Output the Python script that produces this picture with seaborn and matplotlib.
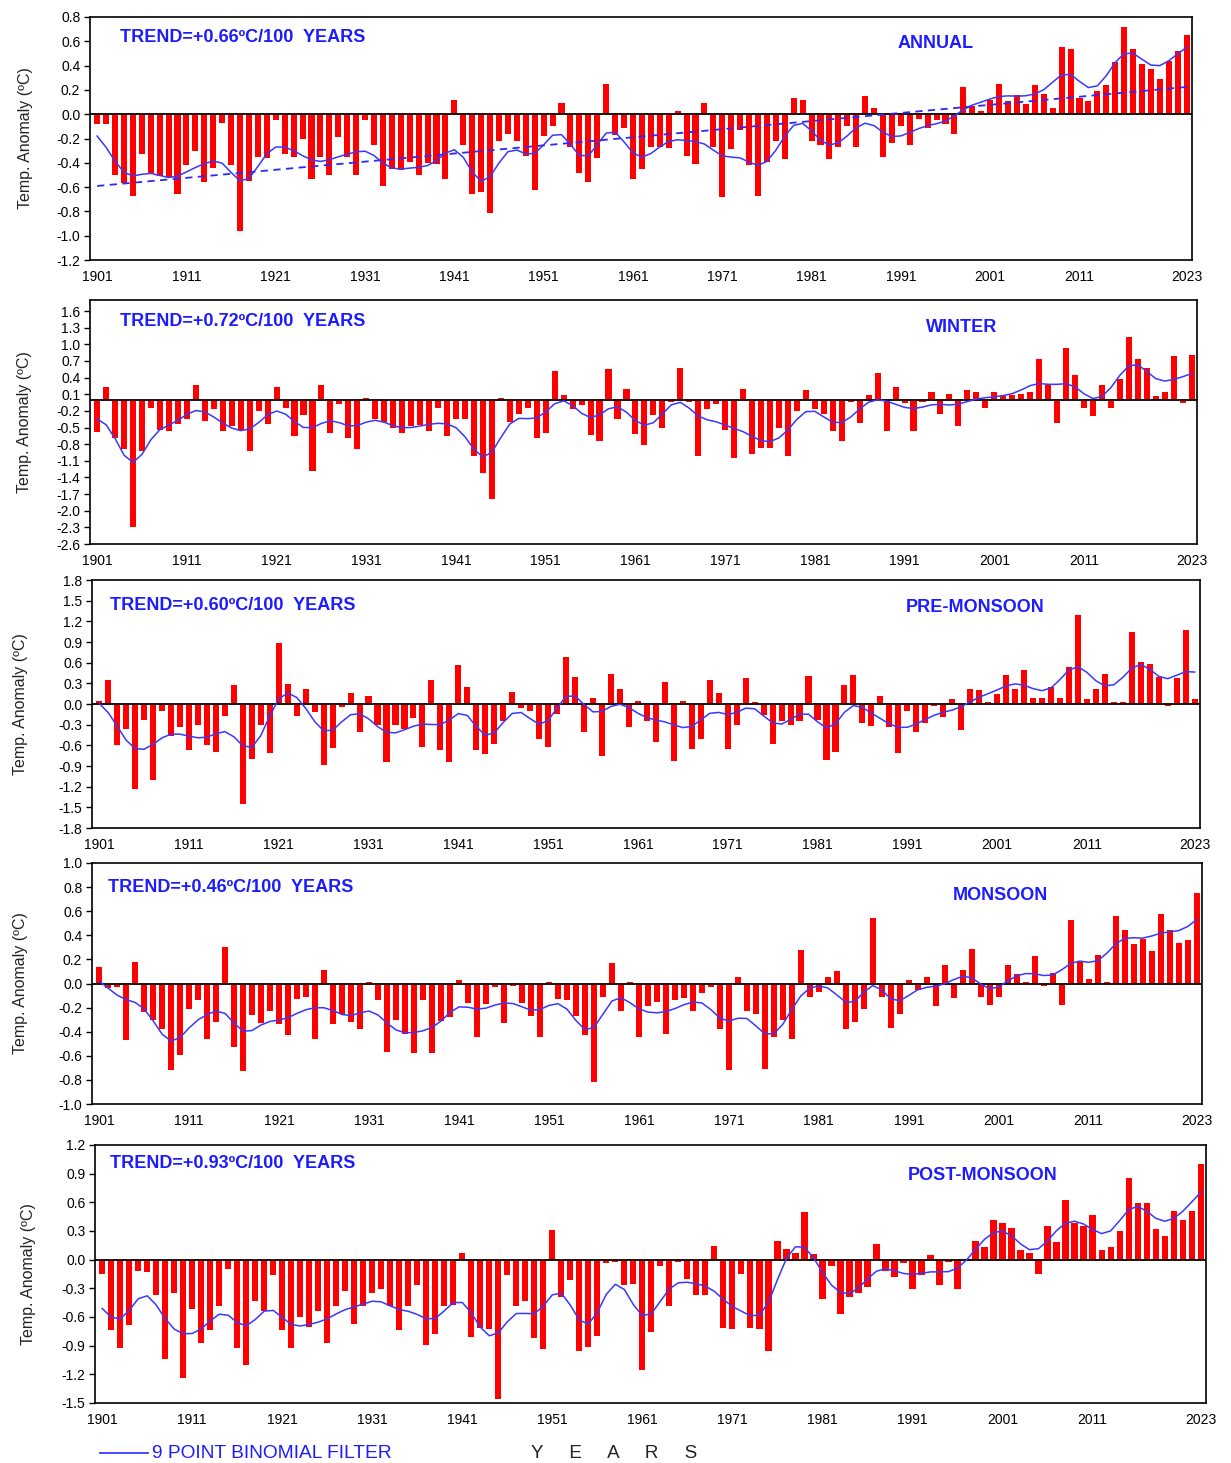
import numpy as np
import matplotlib
matplotlib.use("Agg")
import matplotlib.pyplot as plt
from matplotlib.lines import Line2D
import seaborn as sns

plt.rcParams['font.family'] = ['Liberation Sans', 'DejaVu Sans']

years = list(range(1901, 2024))

annual = [
    -0.08, -0.08, -0.50, -0.57, -0.67, -0.33, -0.48, -0.51, -0.52, -0.66,
    -0.42, -0.30, -0.56, -0.44, -0.07, -0.42, -0.96, -0.55, -0.35, -0.36,
    -0.05, -0.33, -0.35, -0.20, -0.53, -0.35, -0.50, -0.19, -0.35, -0.50,
    -0.05, -0.25, -0.59, -0.45, -0.46, -0.39, -0.50, -0.40, -0.41, -0.53,
    0.12, -0.25, -0.66, -0.64, -0.81, -0.22, -0.16, -0.22, -0.34, -0.62,
    -0.18, -0.10, 0.09, -0.27, -0.48, -0.56, -0.36, 0.25, -0.17, -0.11,
    -0.53, -0.45, -0.27, -0.27, -0.28, 0.03, -0.34, -0.41, 0.09, -0.27,
    -0.68, -0.29, -0.13, -0.42, -0.67, -0.39, -0.22, -0.37, 0.13, 0.12,
    -0.22, -0.25, -0.37, -0.27, -0.10, -0.27, 0.15, 0.05, -0.35, -0.24,
    -0.10, -0.25, -0.04, -0.11, -0.05, -0.08, -0.16, 0.22, 0.07, 0.03,
    0.12, 0.25, 0.11, 0.16, 0.08, 0.24, 0.17, 0.05, 0.55, 0.54,
    0.13, 0.11, 0.19, 0.24, 0.43, 0.72, 0.54, 0.41, 0.37, 0.29,
    0.44, 0.52, 0.65,
]

winter = [
    -0.58, 0.23, -0.68, -0.89, -2.30, -0.92, -0.14, -0.54, -0.57, -0.44,
    -0.34, 0.26, -0.38, -0.17, -0.57, -0.47, -0.54, -0.92, -0.20, -0.44,
    0.23, -0.14, -0.65, -0.28, -1.28, 0.26, -0.60, -0.08, -0.68, -0.89,
    0.03, -0.34, -0.40, -0.51, -0.60, -0.48, -0.45, -0.57, -0.14, -0.65,
    -0.34, -0.34, -1.01, -1.32, -1.78, 0.03, -0.40, -0.25, -0.14, -0.68,
    -0.59, 0.52, 0.09, -0.17, -0.10, -0.63, -0.74, 0.55, -0.35, 0.20,
    -0.62, -0.81, -0.28, -0.50, -0.04, 0.57, -0.04, -1.01, -0.17, -0.07,
    -0.54, -1.05, 0.20, -0.98, -0.86, -0.86, -0.50, -1.01, -0.20, 0.17,
    -0.17, -0.26, -0.57, -0.74, -0.04, -0.41, 0.09, 0.49, -0.57, 0.23,
    -0.05, -0.57, -0.04, 0.14, -0.25, 0.11, -0.47, 0.17, 0.14, -0.14,
    0.14, 0.07, 0.08, 0.11, 0.14, 0.74, 0.27, -0.41, 0.93, 0.44,
    -0.14, -0.30, 0.27, -0.14, 0.38, 1.14, 0.74, 0.58, 0.07, 0.14,
    0.79, -0.05, 0.81,
]

pre_monsoon = [
    0.04, 0.35, -0.60, -0.37, -1.23, -0.23, -1.10, -0.10, -0.46, -0.33,
    -0.67, -0.30, -0.60, -0.69, -0.17, 0.27, -1.45, -0.80, -0.30, -0.71,
    0.88, 0.29, -0.17, 0.22, -0.12, -0.88, -0.64, -0.05, 0.16, -0.41,
    0.11, -0.30, -0.84, -0.30, -0.37, -0.21, -0.63, 0.35, -0.67, -0.84,
    0.57, 0.24, -0.67, -0.73, -0.58, -0.25, 0.18, -0.06, -0.10, -0.51,
    -0.63, -0.14, 0.68, 0.39, -0.41, 0.09, -0.76, 0.44, 0.22, -0.33,
    0.04, -0.25, -0.55, 0.32, -0.83, 0.04, -0.66, -0.51, 0.35, 0.16,
    -0.66, -0.31, 0.38, 0.03, -0.16, -0.58, -0.25, -0.30, -0.25, 0.40,
    -0.23, -0.82, -0.69, 0.27, 0.42, -0.28, -0.32, 0.11, -0.33, -0.71,
    -0.10, -0.41, -0.27, -0.03, -0.19, 0.07, -0.38, 0.22, 0.20, 0.03,
    0.14, 0.42, 0.22, 0.50, 0.09, 0.09, 0.25, 0.09, 0.53, 1.29,
    0.07, 0.22, 0.44, 0.03, 0.03, 1.05, 0.61, 0.58, 0.39, -0.03,
    0.38, 1.07, 0.07,
]

monsoon = [
    0.14, -0.04, -0.03, -0.47, 0.18, -0.24, -0.30, -0.38, -0.72, -0.59,
    -0.21, -0.14, -0.46, -0.32, 0.30, -0.53, -0.73, -0.26, -0.33, -0.23,
    -0.34, -0.43, -0.13, -0.11, -0.46, 0.11, -0.34, -0.25, -0.32, -0.38,
    0.01, -0.14, -0.57, -0.30, -0.42, -0.58, -0.14, -0.58, -0.31, -0.28,
    0.03, -0.16, -0.44, -0.17, -0.03, -0.33, -0.02, -0.16, -0.27, -0.44,
    0.01, -0.13, -0.14, -0.27, -0.43, -0.82, -0.11, 0.17, -0.23, 0.01,
    -0.44, -0.19, -0.15, -0.42, -0.14, -0.12, -0.23, -0.08, -0.03, -0.38,
    -0.72, 0.05, -0.23, -0.25, -0.71, -0.44, -0.30, -0.46, 0.28, -0.11,
    -0.07, 0.05, 0.10, -0.38, -0.32, -0.21, 0.54, -0.11, -0.37, -0.25,
    0.03, -0.05, 0.05, -0.19, 0.15, -0.12, 0.11, 0.29, -0.11, -0.18,
    -0.11, 0.15, 0.08, 0.01, 0.23, -0.02, 0.09, -0.18, 0.53, 0.18,
    0.04, 0.24, 0.01, 0.56, 0.44, 0.33, 0.37, 0.27, 0.58, 0.44,
    0.34, 0.36, 0.75,
]

post_monsoon = [
    -0.15, -0.74, -0.92, -0.68, -0.12, -0.13, -0.37, -1.04, -0.35, -1.24,
    -0.52, -0.87, -0.74, -0.49, -0.10, -0.92, -1.10, -0.43, -0.54, -0.16,
    -0.74, -0.92, -0.60, -0.70, -0.54, -0.87, -0.48, -0.33, -0.67, -0.49,
    -0.35, -0.31, -0.49, -0.74, -0.48, -0.27, -0.89, -0.78, -0.49, -0.47,
    0.07, -0.81, -0.71, -0.73, -1.46, -0.16, -0.48, -0.43, -0.82, -0.94,
    0.31, -0.39, -0.21, -0.96, -0.91, -0.80, -0.04, -0.02, -0.26, -0.25,
    -1.15, -0.76, -0.07, -0.48, -0.02, -0.20, -0.37, -0.37, 0.14, -0.71,
    -0.73, -0.15, -0.71, -0.73, -0.96, 0.20, 0.11, 0.07, 0.50, 0.06,
    -0.41, -0.07, -0.57, -0.39, -0.35, -0.29, 0.16, -0.12, -0.18, -0.04,
    -0.31, -0.16, 0.05, -0.27, -0.02, -0.31, 0.01, 0.20, 0.13, 0.41,
    0.38, 0.33, 0.10, 0.07, -0.15, 0.35, 0.19, 0.62, 0.38, 0.35,
    0.47, 0.10, 0.13, 0.30, 0.85, 0.59, 0.59, 0.32, 0.25, 0.51,
    0.42, 0.51, 1.00,
]

season_names = ["ANNUAL", "WINTER", "PRE-MONSOON", "MONSOON", "POST-MONSOON"]
trend_labels = ["TREND=+0.66ºC/100  YEARS", "TREND=+0.72ºC/100  YEARS",
                "TREND=+0.60ºC/100  YEARS", "TREND=+0.46ºC/100  YEARS",
                "TREND=+0.93ºC/100  YEARS"]
ylims = [(-1.2, 0.8), (-2.6, 1.8), (-1.8, 1.8), (-1.0, 1.0), (-1.5, 1.2)]
ytick_specs = [(-1.2, 0.8, 0.2), (-2.6, 1.6, 0.3), (-1.8, 1.8, 0.3),
               (-1.0, 1.0, 0.2), (-1.5, 1.2, 0.3)]
xtick_years = [1901, 1911, 1921, 1931, 1941, 1951, 1961, 1971, 1981, 1991, 2001, 2011, 2023]

series = [annual, winter, pre_monsoon, monsoon, post_monsoon]
for s in series:
    assert len(s) == len(years), len(s)


def binomial9(v):
    w = np.array([1, 8, 28, 56, 70, 56, 28, 8, 1], float)
    v = np.asarray(v, float)
    n = len(v)
    out = np.empty(n)
    for i in range(n):
        lo = max(0, i - 4)
        hi = min(n, i + 5)
        ww = w[lo - i + 4: hi - i + 4]
        out[i] = np.dot(ww, v[lo:hi]) / ww.sum()
    return out


def fmt(v):
    v = round(float(v), 1)
    if v == 0:
        v = 0.0
    return "%.1f" % (v + 0.0)


W, H = 1231, 1463
fig = plt.figure(figsize=(W / 100, H / 100), dpi=100)
fig.patch.set_facecolor("white")

# panel boxes in pixels: left, right, top, bottom
boxes = [(90, 1192, 17, 260), (90, 1197, 300, 544), (92, 1200, 580, 828),
         (92, 1202, 863, 1104), (95, 1206, 1145, 1403)]
trend_pos = [(120, 38), (120, 322), (110, 605), (108, 887), (110, 1163)]
title_pos = [(936, 43), (962, 328), (975, 607), (1000, 895), (983, 1176)]
ylabel_x = [33, 32, 28, 28, 36]

blue_line = "#3838ff"
text_blue = "#1c1cff"

for k, vals in enumerate(series):
    l, r, t, b = boxes[k]
    ax = fig.add_axes([l / W, (H - b) / H, (r - l) / W, (b - t) / H])
    sns.barplot(x=years, y=vals, native_scale=True, color="#ff0000",
                saturation=1, width=0.68, errorbar=None, linewidth=0,
                edgecolor="none", ax=ax)
    ax.axhline(0, color="black", lw=1.3, zorder=3)
    sns.lineplot(x=years, y=binomial9(vals), color=blue_line, lw=1.1,
                 ax=ax, legend=False, zorder=4)
    if k == 0:
        sns.regplot(x=np.array(years, float), y=np.array(vals, float),
                    scatter=False, ci=None, truncate=True, ax=ax,
                    line_kws=dict(color="#2a2aff", ls=(0, (4, 3)), lw=1.3, zorder=4))
    ax.set_xlim(1900.2, 2023.6)
    ax.set_ylim(*ylims[k])
    y0, y1, st = ytick_specs[k]
    yt = np.round(np.arange(y0, y1 + st / 2, st), 2)
    ax.set_yticks(yt)
    ax.set_yticklabels([fmt(v) for v in yt])
    ax.set_xticks(xtick_years)
    ax.set_xticklabels([str(y) for y in xtick_years])
    ax.tick_params(axis="x", length=0, pad=7, labelsize=10, colors="black")
    ax.tick_params(axis="y", length=4, width=1, pad=3, labelsize=10, colors="black")
    for sp in ax.spines.values():
        sp.set_visible(True)
        sp.set_color("black")
        sp.set_linewidth(1.2)
    ax.set_facecolor("white")
    ax.grid(False)
    ax.set_xlabel("")
    ax.set_ylabel("Temp. Anomaly (ºC)", fontsize=11.5, color="#222222")
    ax.yaxis.set_label_coords((ylabel_x[k] - l) / (r - l), 0.5)
    tx, ty = trend_pos[k]
    ax.text((tx - l) / (r - l), 1 - (ty - t) / (b - t), trend_labels[k],
            transform=ax.transAxes, ha="left", va="center", fontsize=13,
            fontweight="bold", color=text_blue)
    cx, cy = title_pos[k]
    ax.text((cx - l) / (r - l), 1 - (cy - t) / (b - t), season_names[k],
            transform=ax.transAxes, ha="center", va="center", fontsize=13,
            fontweight="bold", color=text_blue)

# bottom legend
fig.add_artist(Line2D([100 / W, 148 / W], [(H - 1453) / H] * 2,
                      color=blue_line, lw=1.3, transform=fig.transFigure))
fig.text(152 / W, (H - 1453) / H, "9 POINT BINOMIAL FILTER", ha="left",
         va="center", fontsize=13.8, color=text_blue)
fig.text(614 / W, (H - 1453) / H, "Y     E     A     R     S", ha="center",
         va="center", fontsize=13.5, color="#222222")

fig.savefig("out.png", dpi=100, facecolor="white")
